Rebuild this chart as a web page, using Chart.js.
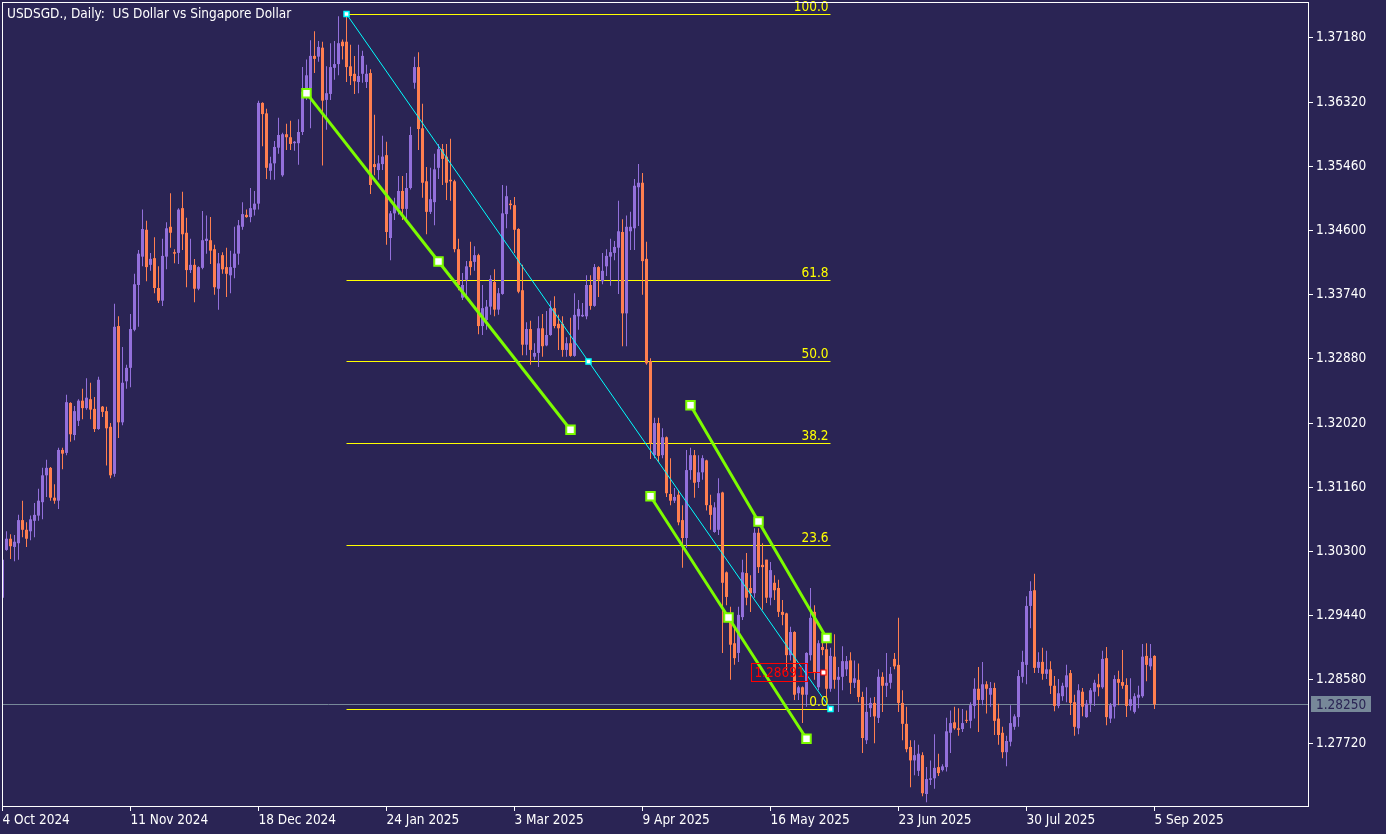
<!DOCTYPE html>
<html lang="en">
<head>
  <meta charset="UTF-8">
  <title>USDSGD Daily</title>
  <script src="https://cdn.jsdelivr.net/npm/chart.js"></script>
  <style>
    html, body { margin: 0; padding: 0; background: #2a2454; overflow: hidden; }
    #wrap { width: 1386px; height: 834px; }
  </style>
</head>
<body>
  <div id="wrap"><canvas id="chart" width="1386" height="834"></canvas></div>

  <script>
    const chartTitle = "USDSGD., Daily:  US Dollar vs Singapore Dollar";

    // bar index of each date label (bar 0 = 4 Oct 2024)
    const dateTicks = [0, 32, 64, 96, 128, 160, 192, 224, 256, 288];
    const dateLabels = ["4 Oct 2024", "11 Nov 2024", "18 Dec 2024", "24 Jan 2025", "3 Mar 2025",
                        "9 Apr 2025", "16 May 2025", "23 Jun 2025", "30 Jul 2025", "5 Sep 2025"];
    const priceTicks = [1.27720, 1.28580, 1.29440, 1.30300, 1.31160, 1.32020,
                        1.32880, 1.33740, 1.34600, 1.35460, 1.36320, 1.37180];
    const priceMin = 1.26889, priceMax = 1.37662;
    const barMin = -0.125, barMax = 326.375;

    const opens = [
      1.2968,1.3032,1.3047,1.3036,1.3041,1.3072,1.3059,1.3057,1.3071,1.3078,
      1.3096,1.3132,1.3142,1.3102,1.3098,1.3166,1.3162,1.3229,1.3186,1.3205,
      1.3232,1.3222,1.3234,1.3221,1.3194,1.3224,1.3218,1.3197,1.3134,1.3332,
      1.3203,1.3258,1.3276,1.3327,1.3387,1.3425,1.3461,1.3414,1.3423,1.3383,
      1.3366,1.3425,1.3465,1.3431,1.3430,1.3490,1.3457,1.3407,1.3414,1.3382,
      1.3410,1.3446,1.3447,1.3435,1.3382,1.3427,1.3411,1.3400,1.3410,1.3429,
      1.3465,1.3481,1.3478,1.3488,1.3496,1.3631,1.3617,1.3540,1.3550,1.3571,
      1.3534,1.3589,1.3585,1.3577,1.3577,1.3592,1.3648,1.3651,1.3694,1.3693,
      1.3705,1.3635,1.3643,1.3678,1.3683,1.3713,1.3713,1.3680,1.3670,1.3659,
      1.3670,1.3659,1.3671,1.3549,1.3541,1.3549,1.3561,1.3450,1.3483,1.3489,
      1.3513,1.3489,1.3517,1.3658,1.3679,1.3597,1.3526,1.3485,1.3498,1.3544,
      1.3569,1.3559,1.3528,1.3526,1.3435,1.3370,1.3394,1.3419,1.3418,1.3427,
      1.3332,1.3340,1.3358,1.3391,1.3354,1.3375,1.3482,1.3496,1.3494,1.3462,
      1.3380,1.3307,1.3328,1.3291,1.3296,1.3329,1.3306,1.3320,1.3356,1.3335,
      1.3335,1.3300,1.3309,1.3292,1.3345,1.3345,1.3345,1.3387,1.3359,1.3411,
      1.3392,1.3412,1.3425,1.3430,1.3437,1.3458,1.3349,1.3459,1.3463,1.3518,
      1.3524,1.3422,1.3285,1.3159,1.3202,1.3159,1.3183,1.3107,1.3098,1.3106,
      1.3072,1.3048,1.3139,1.3159,1.3123,1.3136,1.3152,1.3092,1.3056,1.3059,
      1.3109,1.3002,1.2941,1.2907,1.2894,1.2942,1.3001,1.2981,1.2974,1.3055,
      1.3012,1.3019,1.2968,1.2988,1.2981,1.2949,1.2947,1.2891,1.2922,1.2840,
      1.2848,1.2838,1.2891,1.2949,1.2848,1.2902,1.2899,1.2846,1.2889,1.2858,
      1.2862,1.2872,1.2884,1.2854,1.2858,1.2835,1.2777,1.2820,1.2827,1.2807,
      1.2862,1.2850,1.2854,1.2886,1.2878,1.2827,1.2799,1.2768,1.2750,1.2736,
      1.2757,1.2705,1.2724,1.2726,1.2741,1.2737,1.2741,1.2787,1.2801,1.2793,
      1.2792,1.2804,1.2803,1.2823,1.2846,1.2831,1.2852,1.2838,1.2847,1.2806,
      1.2787,1.2761,1.2775,1.2795,1.2808,1.2862,1.2878,1.2957,1.2978,1.2874,
      1.2882,1.2866,1.2872,1.2850,1.2823,1.2836,1.2848,1.2867,1.2828,1.2793,
      1.2842,1.2808,1.2826,1.2842,1.2852,1.2848,1.2887,1.2806,1.2822,1.2859,
      1.2855,1.2851,1.2823,1.2815,1.2834,1.2836,1.2890,1.2876,1.2890
    ];
    const highs = [
      1.3045,1.3057,1.3053,1.3052,1.3079,1.3098,1.3069,1.3078,1.3095,1.3114,
      1.3142,1.3153,1.3143,1.3120,1.3169,1.3169,1.3240,1.3230,1.3225,1.3234,
      1.3248,1.3262,1.3256,1.3237,1.3264,1.3225,1.3224,1.3202,1.3362,1.3345,
      1.3304,1.3280,1.3348,1.3402,1.3434,1.3488,1.3473,1.3430,1.3451,1.3412,
      1.3449,1.3471,1.3510,1.3435,1.3490,1.3512,1.3477,1.3449,1.3422,1.3412,
      1.3486,1.3480,1.3478,1.3441,1.3430,1.3431,1.3437,1.3433,1.3465,1.3474,
      1.3498,1.3488,1.3517,1.3513,1.3634,1.3632,1.3623,1.3559,1.3580,1.3611,
      1.3591,1.3603,1.3607,1.3580,1.3609,1.3679,1.3689,1.3715,1.3727,1.3714,
      1.3713,1.3680,1.3711,1.3714,1.3747,1.3716,1.3750,1.3709,1.3694,1.3709,
      1.3701,1.3682,1.3676,1.3615,1.3561,1.3587,1.3579,1.3486,1.3504,1.3533,
      1.3533,1.3537,1.3599,1.3693,1.3699,1.3630,1.3545,1.3544,1.3563,1.3576,
      1.3576,1.3576,1.3583,1.3528,1.3449,1.3403,1.3419,1.3445,1.3439,1.3429,
      1.3387,1.3367,1.3400,1.3408,1.3383,1.3521,1.3520,1.3501,1.3505,1.3463,
      1.3414,1.3337,1.3339,1.3309,1.3345,1.3348,1.3352,1.3366,1.3372,1.3347,
      1.3345,1.3317,1.3343,1.3376,1.3367,1.3363,1.3400,1.3400,1.3415,1.3412,
      1.3430,1.3435,1.3449,1.3446,1.3500,1.3475,1.3480,1.3485,1.3529,1.3549,
      1.3537,1.3445,1.3289,1.3209,1.3209,1.3195,1.3184,1.3155,1.3115,1.3112,
      1.3092,1.3166,1.3169,1.3166,1.3159,1.3159,1.3153,1.3106,1.3096,1.3128,
      1.3110,1.3003,1.2956,1.2929,1.2956,1.3019,1.3028,1.2998,1.3061,1.3061,
      1.3041,1.3019,1.3016,1.2998,1.2992,1.2965,1.2948,1.2929,1.2923,1.2850,
      1.2849,1.2895,1.2981,1.2958,1.2911,1.2914,1.2911,1.2901,1.2919,1.2875,
      1.2903,1.2890,1.2895,1.2884,1.2880,1.2842,1.2848,1.2834,1.2835,1.2872,
      1.2868,1.2894,1.2875,1.2894,1.2941,1.2844,1.2822,1.2777,1.2777,1.2771,
      1.2761,1.2741,1.2750,1.2785,1.2759,1.2745,1.2807,1.2817,1.2822,1.2820,
      1.2819,1.2817,1.2828,1.2860,1.2875,1.2882,1.2856,1.2855,1.2854,1.2826,
      1.2795,1.2783,1.2824,1.2812,1.2871,1.2897,1.2970,1.2990,1.3000,1.2895,
      1.2901,1.2897,1.2883,1.2863,1.2859,1.2854,1.2878,1.2871,1.2838,1.2852,
      1.2847,1.2831,1.2847,1.2858,1.2866,1.2897,1.2902,1.2827,1.2864,1.2870,
      1.2898,1.2860,1.2860,1.2840,1.2850,1.2906,1.2907,1.2906,1.2891
    ];
    const lows = [
      1.2965,1.3031,1.3020,1.3017,1.3019,1.3049,1.3036,1.3045,1.3049,1.3071,
      1.3073,1.3103,1.3098,1.3094,1.3087,1.3140,1.3159,1.3177,1.3179,1.3198,
      1.3207,1.3220,1.3207,1.3190,1.3193,1.3210,1.3145,1.3128,1.3130,1.3182,
      1.3199,1.3248,1.3250,1.3325,1.3331,1.3412,1.3392,1.3406,1.3376,1.3363,
      1.3359,1.3408,1.3437,1.3416,1.3415,1.3434,1.3384,1.3403,1.3364,1.3380,
      1.3408,1.3429,1.3415,1.3374,1.3354,1.3402,1.3371,1.3376,1.3396,1.3414,
      1.3461,1.3477,1.3471,1.3480,1.3488,1.3573,1.3529,1.3528,1.3528,1.3563,
      1.3532,1.3568,1.3568,1.3567,1.3548,1.3588,1.3635,1.3597,1.3671,1.3686,
      1.3547,1.3595,1.3635,1.3662,1.3668,1.3689,1.3659,1.3655,1.3643,1.3644,
      1.3658,1.3651,1.3509,1.3534,1.3528,1.3541,1.3441,1.3420,1.3474,1.3481,
      1.3474,1.3470,1.3515,1.3650,1.3568,1.3504,1.3455,1.3482,1.3467,1.3529,
      1.3521,1.3501,1.3500,1.3431,1.3380,1.3367,1.3371,1.3400,1.3406,1.3321,
      1.3320,1.3327,1.3347,1.3345,1.3347,1.3374,1.3463,1.3488,1.3430,1.3376,
      1.3293,1.3293,1.3280,1.3287,1.3277,1.3291,1.3305,1.3319,1.3329,1.3300,
      1.3291,1.3291,1.3291,1.3291,1.3327,1.3344,1.3341,1.3354,1.3358,1.3371,
      1.3388,1.3399,1.3386,1.3420,1.3375,1.3305,1.3305,1.3434,1.3434,1.3466,
      1.3374,1.3280,1.3154,1.3155,1.3150,1.3155,1.3103,1.3092,1.3095,1.3065,
      1.3008,1.3035,1.3126,1.3102,1.3115,1.3126,1.3085,1.3059,1.3055,1.3052,
      1.2894,1.2958,1.2858,1.2878,1.2882,1.2938,1.2958,1.2949,1.2968,1.3001,
      1.2952,1.2961,1.2958,1.2965,1.2942,1.2931,1.2871,1.2884,1.2831,1.2831,
      1.2800,1.2822,1.2884,1.2858,1.2844,1.2891,1.2835,1.2842,1.2846,1.2815,
      1.2844,1.2863,1.2839,1.2847,1.2828,1.2760,1.2772,1.2808,1.2773,1.2800,
      1.2815,1.2835,1.2846,1.2872,1.2815,1.2777,1.2761,1.2714,1.2730,1.2729,
      1.2702,1.2694,1.2717,1.2712,1.2729,1.2735,1.2735,1.2760,1.2791,1.2783,
      1.2788,1.2800,1.2793,1.2806,1.2788,1.2824,1.2813,1.2822,1.2784,1.2771,
      1.2753,1.2742,1.2769,1.2791,1.2795,1.2854,1.2852,1.2927,1.2867,1.2867,
      1.2858,1.2859,1.2839,1.2816,1.2820,1.2830,1.2828,1.2811,1.2783,1.2785,
      1.2809,1.2807,1.2815,1.2823,1.2836,1.2846,1.2797,1.2800,1.2806,1.2824,
      1.2846,1.2808,1.2817,1.2813,1.2820,1.2834,1.2856,1.2871,1.2819
    ];
    const closes = [
      1.3019,1.3047,1.3037,1.3043,1.3072,1.3059,1.3047,1.3073,1.3079,1.3098,
      1.3132,1.3142,1.3102,1.3098,1.3166,1.3161,1.3230,1.3187,1.3218,1.3232,
      1.3222,1.3236,1.3220,1.3194,1.3260,1.3217,1.3195,1.3132,1.3331,1.3203,
      1.3256,1.3276,1.3328,1.3388,1.3429,1.3462,1.3411,1.3422,1.3383,1.3366,
      1.3426,1.3463,1.3457,1.3429,1.3488,1.3455,1.3407,1.3414,1.3382,1.3411,
      1.3447,1.3449,1.3433,1.3384,1.3416,1.3408,1.3402,1.3411,1.3429,1.3467,
      1.3482,1.3478,1.3490,1.3496,1.3631,1.3616,1.3544,1.3550,1.3572,1.3588,
      1.3589,1.3585,1.3576,1.3579,1.3592,1.3646,1.3668,1.3694,1.3690,1.3706,
      1.3634,1.3644,1.3679,1.3683,1.3711,1.3707,1.3679,1.3667,1.3660,1.3667,
      1.3694,1.3670,1.3521,1.3545,1.3550,1.3559,1.3458,1.3483,1.3494,1.3513,
      1.3489,1.3517,1.3588,1.3679,1.3596,1.3524,1.3485,1.3502,1.3542,1.3569,
      1.3556,1.3524,1.3526,1.3435,1.3387,1.3387,1.3412,1.3411,1.3427,1.3332,
      1.3356,1.3358,1.3395,1.3354,1.3376,1.3483,1.3506,1.3494,1.3461,1.3378,
      1.3307,1.3328,1.3300,1.3296,1.3329,1.3305,1.3320,1.3356,1.3332,1.3329,
      1.3300,1.3309,1.3292,1.3347,1.3355,1.3347,1.3387,1.3359,1.3411,1.3394,
      1.3406,1.3426,1.3431,1.3438,1.3459,1.3349,1.3465,1.3465,1.3520,1.3524,
      1.3419,1.3282,1.3175,1.3202,1.3158,1.3183,1.3108,1.3098,1.3103,1.3069,
      1.3048,1.3139,1.3159,1.3122,1.3136,1.3155,1.3092,1.3079,1.3089,1.3108,
      1.2988,1.2969,1.2905,1.2887,1.2945,1.3002,1.2968,1.2974,1.3055,1.3009,
      1.3009,1.2968,1.3005,1.2978,1.2949,1.2945,1.2891,1.2922,1.2838,1.2848,
      1.2838,1.2894,1.2941,1.2867,1.2907,1.2898,1.2846,1.2890,1.2858,1.2862,
      1.2883,1.2883,1.2854,1.2860,1.2835,1.2780,1.2815,1.2827,1.2809,1.2862,
      1.2850,1.2854,1.2866,1.2876,1.2827,1.2799,1.2765,1.2750,1.2757,1.2759,
      1.2706,1.2725,1.2726,1.2740,1.2733,1.2742,1.2789,1.2800,1.2793,1.2791,
      1.2800,1.2803,1.2824,1.2846,1.2831,1.2852,1.2846,1.2847,1.2803,1.2784,
      1.2761,1.2776,1.2800,1.2809,1.2863,1.2882,1.2957,1.2977,1.2874,1.2882,
      1.2866,1.2872,1.2850,1.2823,1.2840,1.2850,1.2864,1.2827,1.2795,1.2844,
      1.2822,1.2826,1.2844,1.2854,1.2848,1.2886,1.2808,1.2824,1.2859,1.2854,
      1.2850,1.2823,1.2832,1.2836,1.2838,1.2889,1.2878,1.2887,1.2825
    ];

    // drawn objects: fibonacci retracement, trend lines, price label
    const fibStart = 86, fibEnd = 207;
    const fibHigh = 1.3750, fibLow = 1.2819;
    const fibLevels = [0, 23.6, 38.2, 50, 61.8, 100];
    const trendLines = [
      [[76, 1.3644], [142, 1.3193]],
      [[172, 1.3226], [206, 1.2914]],
      [[162, 1.3104], [201, 1.2779]]
    ];
    const markBar = 205, markPrice = 1.28691;
    const bidPrice = closes[closes.length - 1];

    const bgColor = '#2a2454';
    const upColor = '#9370db';
    const downColor = '#ff7f50';
    const axisFont = '"DejaVu Sans Condensed", "DejaVu Sans", sans-serif';

    const idx = opens.map((_, i) => i);
    const candleColors = idx.map(i => closes[i] >= opens[i] ? upColor : downColor);

    const fibPrice = lvl => fibLow + (fibHigh - fibLow) * lvl / 100;

    const datasets = [];

    trendLines.forEach(([a, b]) => {
      datasets.push({
        type: 'line', order: 0,
        data: [{ x: a[0], y: a[1] }, { x: (a[0] + b[0]) / 2, y: (a[1] + b[1]) / 2 }, { x: b[0], y: b[1] }],
        borderColor: '#7cfc00', borderWidth: 3,
        pointStyle: 'rect', pointRadius: 6, pointBorderWidth: 2,
        pointBackgroundColor: '#ffffff', pointBorderColor: '#7cfc00'
      });
    });

    // fibo base line, dotted cyan in the terminal
    datasets.push({
      type: 'line', order: 1,
      data: [{ x: fibStart, y: fibHigh }, { x: (fibStart + fibEnd) / 2, y: (fibHigh + fibLow) / 2 }, { x: fibEnd, y: fibLow }],
      borderColor: '#00ffff', borderWidth: 1,
      pointStyle: 'rect', pointRadius: 3.5, pointBorderWidth: 1.5,
      pointBackgroundColor: '#ffffff', pointBorderColor: '#00ffff'
    });

    datasets.push({
      type: 'bar', order: 3, grouped: false,
      data: idx.map(i => ({ x: i, y: [opens[i], closes[i]] })),
      backgroundColor: candleColors, borderWidth: 0, inflateAmount: 0,
      barThickness: 3, minBarLength: 1
    });
    datasets.push({
      type: 'bar', order: 4, grouped: false,
      data: idx.map(i => ({ x: i, y: [lows[i], highs[i]] })),
      backgroundColor: candleColors, borderWidth: 0, inflateAmount: 0,
      barThickness: 1, minBarLength: 1
    });

    function noPadding(axis) {
      axis.paddingLeft = 0;
      axis.paddingRight = 0;
      axis.paddingTop = 0;
      axis.paddingBottom = 0;
    }

    const decor = {
      id: 'decor',
      beforeDraw(chart) {
        const { ctx, width, height } = chart;
        ctx.save();
        ctx.fillStyle = bgColor;
        ctx.fillRect(0, 0, width, height);
        ctx.restore();
      },
      beforeDatasetsDraw(chart) {
        const { ctx, chartArea: a, scales: { x, y } } = chart;
        ctx.save();
        ctx.lineWidth = 1;
        // bid line
        const py = Math.round(y.getPixelForValue(bidPrice)) + 0.5;
        ctx.strokeStyle = '#778899';
        ctx.beginPath();
        ctx.moveTo(a.left, py);
        ctx.lineTo(a.right, py);
        ctx.stroke();
        // fibo levels
        const x0 = x.getPixelForValue(fibStart), x1 = x.getPixelForValue(fibEnd);
        ctx.strokeStyle = '#ffff00';
        fibLevels.forEach(lvl => {
          const ly = Math.round(y.getPixelForValue(fibPrice(lvl))) + 0.5;
          ctx.beginPath();
          ctx.moveTo(x0, ly);
          ctx.lineTo(x1, ly);
          ctx.stroke();
        });
        ctx.restore();
      },
      afterDatasetsDraw(chart) {
        const { ctx, scales: { x, y } } = chart;
        ctx.save();
        // fibo level texts
        ctx.font = '13.5px ' + axisFont;
        ctx.fillStyle = '#ffff00';
        ctx.textAlign = 'right';
        ctx.textBaseline = 'alphabetic';
        const xr = x.getPixelForValue(fibEnd) - 2;
        fibLevels.forEach(lvl => {
          ctx.fillText(lvl.toFixed(1), xr, Math.round(y.getPixelForValue(fibPrice(lvl))) - 3);
        });
        // price label
        const ax = Math.round(x.getPixelForValue(markBar)) + 0.5;
        const ay = Math.round(y.getPixelForValue(markPrice)) + 0.5;
        ctx.strokeStyle = '#ff0000';
        ctx.lineWidth = 1;
        ctx.strokeRect(ax - 72, ay - 9, 56, 18);
        ctx.beginPath();
        ctx.moveTo(ax - 16, ay);
        ctx.lineTo(ax - 3, ay);
        ctx.stroke();
        ctx.fillStyle = '#ffffff';
        ctx.fillRect(ax - 2.5, ay - 2.5, 5, 5);
        ctx.strokeRect(ax - 2.5, ay - 2.5, 5, 5);
        ctx.font = '13.5px ' + axisFont;
        ctx.fillStyle = '#ff0000';
        ctx.textAlign = 'center';
        ctx.textBaseline = 'middle';
        ctx.fillText(markPrice.toFixed(5), ax - 44, ay + 1);
        ctx.restore();
      },
      afterDraw(chart) {
        const { ctx, chartArea: a, scales: { y } } = chart;
        ctx.save();
        // frame
        ctx.strokeStyle = '#ffffff';
        ctx.lineWidth = 1;
        ctx.strokeRect(a.left + 0.5, a.top + 0.5, a.right - a.left, a.bottom - a.top);
        // title
        ctx.font = '13.5px ' + axisFont;
        ctx.fillStyle = '#ffffff';
        ctx.textAlign = 'left';
        ctx.textBaseline = 'middle';
        ctx.fillText(chartTitle, 7, 14);
        // bid price box on the axis
        const py = Math.round(y.getPixelForValue(bidPrice));
        ctx.fillStyle = '#778899';
        ctx.fillRect(a.right + 3, py - 8, 60, 16);
        ctx.font = '13.5px ' + axisFont;
        ctx.fillStyle = '#2a2454';
        ctx.fillText(bidPrice.toFixed(5), a.right + 8, py + 1);
        ctx.restore();
      }
    };

    new Chart(document.getElementById('chart'), {
      type: 'bar',
      data: { datasets },
      plugins: [decor],
      options: {
        responsive: false,
        devicePixelRatio: 1,
        animation: false,
        events: [],
        layout: { autoPadding: false, padding: { left: 2, top: 2, right: 0, bottom: 0 } },
        plugins: { legend: { display: false }, tooltip: { enabled: false } },
        scales: {
          x: {
            type: 'linear', min: barMin, max: barMax, offset: false,
            grid: { drawOnChartArea: false, drawTicks: true, tickLength: 5, color: '#ffffff', offset: false },
            border: { display: false },
            ticks: {
              autoSkip: false, maxRotation: 0, align: 'start', padding: 1,
              color: '#ffffff', font: { family: axisFont, size: 13.5 },
              callback: v => dateLabels[dateTicks.indexOf(v)]
            },
            afterBuildTicks: axis => { axis.ticks = dateTicks.map(v => ({ value: v })); },
            afterFit: axis => { axis.height = 28; noPadding(axis); }
          },
          y: {
            type: 'linear', position: 'right', min: priceMin, max: priceMax,
            grid: { drawOnChartArea: false, drawTicks: true, tickLength: 5, color: '#ffffff' },
            border: { display: false },
            ticks: {
              padding: 3, color: '#ffffff', font: { family: axisFont, size: 13.5 },
              callback: v => v.toFixed(5)
            },
            afterBuildTicks: axis => { axis.ticks = priceTicks.map(v => ({ value: v })); },
            afterFit: axis => { axis.width = 78; noPadding(axis); }
          }
        }
      }
    });
  </script>
</body>
</html>
